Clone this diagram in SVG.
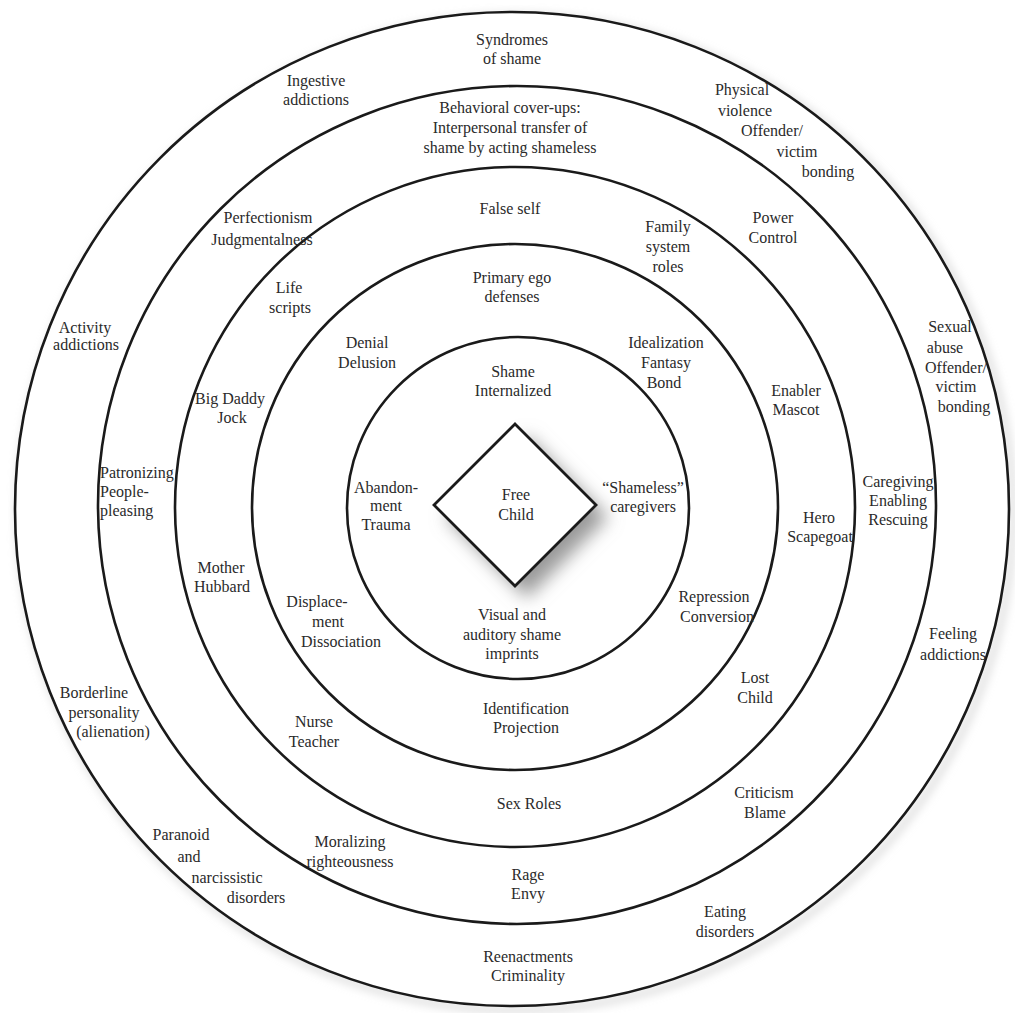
<svg xmlns="http://www.w3.org/2000/svg" width="1015" height="1013" viewBox="0 0 1015 1013">
<defs>
<filter id="shadow" x="-40%" y="-40%" width="180%" height="180%">
<feGaussianBlur stdDeviation="9"/>
</filter>
<filter id="ringShadow" x="-10%" y="-10%" width="120%" height="120%">
<feGaussianBlur stdDeviation="5"/>
</filter>
</defs>
<style>
.ring{fill:none;stroke:#1a1a1a;stroke-width:2.6}
text{font-size:16px;fill:#2a2a2a;text-anchor:middle}
text.start{text-anchor:start}
</style>
<rect width="1015" height="1013" fill="#ffffff"/>
<g id="rings">
<circle cx="516" cy="513" r="497" fill="none" stroke="#c8c8c8" stroke-width="4" filter="url(#ringShadow)"/>
<circle class="ring" cx="512" cy="509" r="497" style="fill:#ffffff"/>
<circle class="ring" cx="517" cy="505" r="419"/>
<circle class="ring" cx="515" cy="507" r="340"/>
<circle class="ring" cx="515" cy="507" r="263"/>
<circle class="ring" cx="518" cy="508" r="171"/>
</g>
<g id="connectors"></g>
<g font-family="'Times New Roman', 'Liberation Serif', 'DejaVu Serif', 'Noto Serif', serif">
<g id="free-child">
<polygon points="527,436 608,517 527,598 446,517" fill="#9a9a9a" filter="url(#shadow)"/>
<polygon points="515,424 596,505 515,586 434,505" fill="#ffffff" stroke="#1a1a1a" stroke-width="2.8"/>
<text><tspan x="516" y="500">Free</tspan><tspan x="516" y="520">Child</tspan></text>
</g>
<g id="syndromes"><text><tspan x="512" y="45">Syndromes</tspan><tspan x="512" y="64">of shame</tspan></text></g>
<g id="ingestive"><text><tspan x="316" y="86">Ingestive</tspan><tspan x="316" y="105">addictions</tspan></text></g>
<g id="behavioral"><text><tspan x="510" y="113">Behavioral cover-ups:</tspan><tspan x="510" y="133">Interpersonal transfer of</tspan><tspan x="510" y="153">shame by acting shameless</tspan></text></g>
<g id="physical"><text><tspan x="742" y="95">Physical</tspan><tspan x="745" y="116">violence</tspan><tspan x="772" y="136">Offender/</tspan><tspan x="797" y="157">victim</tspan><tspan x="828" y="177">bonding</tspan></text></g>
<g id="false-self"><text><tspan x="510" y="214">False self</tspan></text></g>
<g id="perfectionism"><text><tspan x="268" y="223">Perfectionism</tspan><tspan x="262" y="245">Judgmentalness</tspan></text></g>
<g id="family"><text><tspan x="668" y="232">Family</tspan><tspan x="668" y="252">system</tspan><tspan x="668" y="272">roles</tspan></text></g>
<g id="power"><text><tspan x="773" y="223">Power</tspan><tspan x="773" y="243">Control</tspan></text></g>
<g id="primary"><text><tspan x="512" y="283">Primary ego</tspan><tspan x="512" y="302">defenses</tspan></text></g>
<g id="life"><text><tspan x="289" y="293">Life</tspan><tspan x="290" y="313">scripts</tspan></text></g>
<g id="activity"><text><tspan x="85" y="333">Activity</tspan><tspan x="86" y="350">addictions</tspan></text></g>
<g id="sexual"><text><tspan x="950" y="332">Sexual</tspan><tspan x="945" y="353">abuse</tspan><tspan x="956" y="373">Offender/</tspan><tspan x="956" y="392">victim</tspan><tspan x="964" y="412">bonding</tspan></text></g>
<g id="denial"><text><tspan x="367" y="348">Denial</tspan><tspan x="367" y="368">Delusion</tspan></text></g>
<g id="idealization"><text><tspan x="666" y="348">Idealization</tspan><tspan x="666" y="368">Fantasy</tspan><tspan x="664" y="388">Bond</tspan></text></g>
<g id="shame"><text><tspan x="513" y="377">Shame</tspan><tspan x="513" y="396">Internalized</tspan></text></g>
<g id="big-daddy"><text><tspan x="230" y="404">Big Daddy</tspan><tspan x="232" y="423">Jock</tspan></text></g>
<g id="enabler"><text><tspan x="796" y="396">Enabler</tspan><tspan x="796" y="415">Mascot</tspan></text></g>
<g id="patronizing"><text class="start"><tspan x="100" y="478">Patronizing</tspan><tspan x="100" y="497">People-</tspan><tspan x="100" y="516">pleasing</tspan></text></g>
<g id="abandonment"><text><tspan x="386" y="493">Abandon-</tspan><tspan x="386" y="511">ment</tspan><tspan x="386" y="530">Trauma</tspan></text></g>
<g id="shameless"><text><tspan x="643" y="493">“Shameless”</tspan><tspan x="643" y="512">caregivers</tspan></text></g>
<g id="caregiving"><text><tspan x="898" y="487">Caregiving</tspan><tspan x="898" y="506">Enabling</tspan><tspan x="898" y="525">Rescuing</tspan></text></g>
<g id="hero"><text><tspan x="819" y="523">Hero</tspan><tspan x="820" y="542">Scapegoat</tspan></text></g>
<g id="mother"><text><tspan x="221" y="573">Mother</tspan><tspan x="222" y="592">Hubbard</tspan></text></g>
<g id="displacement"><text><tspan x="317" y="607">Displace-</tspan><tspan x="328" y="627">ment</tspan><tspan x="341" y="647">Dissociation</tspan></text></g>
<g id="repression"><text><tspan x="714" y="602">Repression</tspan><tspan x="717" y="622">Conversion</tspan></text></g>
<g id="visual"><text><tspan x="512" y="620">Visual and</tspan><tspan x="512" y="640">auditory shame</tspan><tspan x="512" y="659">imprints</tspan></text></g>
<g id="feeling"><text><tspan x="953" y="639">Feeling</tspan><tspan x="953" y="660">addictions</tspan></text></g>
<g id="lost-child"><text><tspan x="755" y="683">Lost</tspan><tspan x="755" y="703">Child</tspan></text></g>
<g id="borderline"><text><tspan x="94" y="698">Borderline</tspan><tspan x="104" y="718">personality</tspan><tspan x="113" y="737">(alienation)</tspan></text></g>
<g id="identification"><text><tspan x="526" y="714">Identification</tspan><tspan x="526" y="733">Projection</tspan></text></g>
<g id="nurse"><text><tspan x="314" y="727">Nurse</tspan><tspan x="314" y="747">Teacher</tspan></text></g>
<g id="sex-roles"><text><tspan x="529" y="809">Sex Roles</tspan></text></g>
<g id="criticism"><text><tspan x="764" y="798">Criticism</tspan><tspan x="765" y="818">Blame</tspan></text></g>
<g id="paranoid"><text><tspan x="181" y="840">Paranoid</tspan><tspan x="189" y="862">and</tspan><tspan x="227" y="883">narcissistic</tspan><tspan x="256" y="903">disorders</tspan></text></g>
<g id="moralizing"><text><tspan x="350" y="847">Moralizing</tspan><tspan x="350" y="867">righteousness</tspan></text></g>
<g id="rage"><text><tspan x="528" y="880">Rage</tspan><tspan x="528" y="899">Envy</tspan></text></g>
<g id="eating"><text><tspan x="725" y="917">Eating</tspan><tspan x="725" y="937">disorders</tspan></text></g>
<g id="reenactments"><text><tspan x="528" y="962">Reenactments</tspan><tspan x="528" y="981">Criminality</tspan></text></g>
</g>
</svg>
